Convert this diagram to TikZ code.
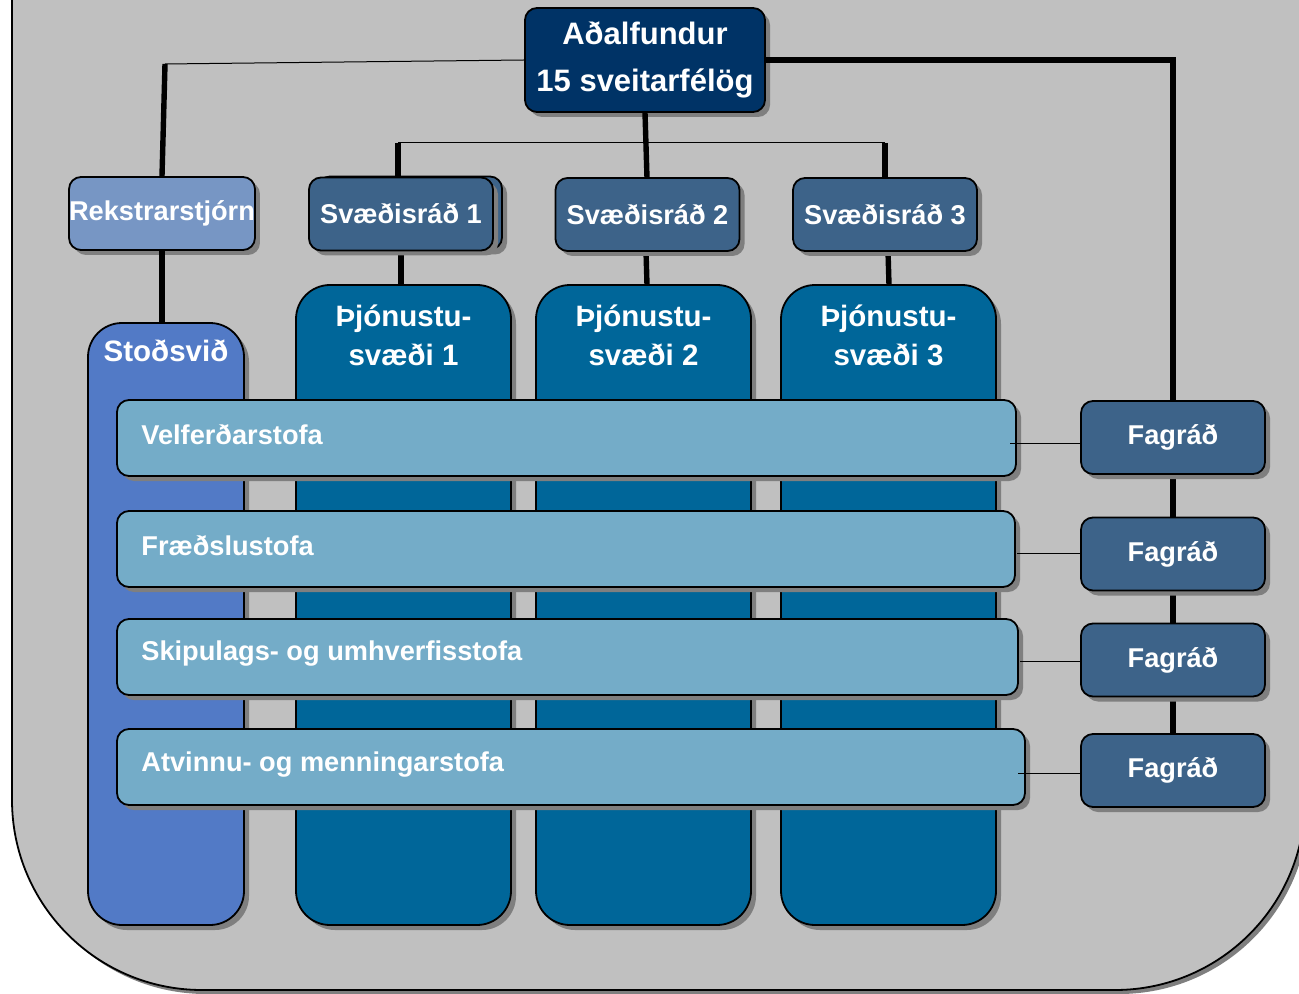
\documentclass[tikz,border=0pt]{standalone}
\usepackage{fontspec}
\setmainfont{Liberation Sans}
\usetikzlibrary{positioning,shadows,calc}
\definecolor{bggray}{HTML}{C0C0C0}
\definecolor{shadowgray}{HTML}{7F7F7F}
\definecolor{navy}{HTML}{003366}
\definecolor{rekblue}{HTML}{7796C4}
\definecolor{svblue}{HTML}{3D6389}
\definecolor{stodblue}{HTML}{527AC6}
\definecolor{pjblue}{HTML}{006699}
\definecolor{stofablue}{HTML}{74ACC8}

\begin{document}
\begin{tikzpicture}[x=0.5pt,y=-0.5pt,
    box/.style={draw=black, line width=0.9pt, rounded corners=6pt, inner sep=0pt,
      text=white, font=\fontsize{13.6}{16}\selectfont\bfseries,
      drop shadow={shadow xshift=2.5pt, shadow yshift=-2.5pt, fill=shadowgray, opacity=1}},
    small/.style={box, fill=svblue, minimum width=92pt, minimum height=36.5pt},
    col/.style={box, rounded corners=17pt, minimum height=320pt},
    stofa/.style={box, fill=stofablue, minimum height=38pt},
    stofatext/.style={anchor=west, inner sep=0pt, text=white, font=\fontsize{13.6}{16}\selectfont\bfseries},
    thickline/.style={line width=2.7pt},
    thinline/.style={line width=0.5pt}]
    % page and background panel
    \useasboundingbox[fill=white] (0,0) rectangle (1299,994);
    \fill[shadowgray, rounded corners=95pt] (16,-10) -- (16,994) -- (1309,994) -- (1309,-10);
    \filldraw[fill=bggray, draw=black, line width=0.9pt, rounded corners=95pt]
        (12,-10) -- (12,990) -- (1305,990) -- (1305,-10);

    % points where the lines turn
    \coordinate (kl) at (165,64);
    \coordinate (ks1) at (398,143);
    \coordinate (ks3) at (885,143);

    % boxes
    \node[box, fill=navy, minimum width=120pt, minimum height=52pt, align=center,
          font=\fontsize{15.5}{23.5}\selectfont\bfseries] (adal) at (645,60) {Aðalfundur\\15 sveitarfélög};
    \node[small, fill=rekblue, minimum width=92.5pt] (rek) at (162,213.5) {Rekstrarstjórn};

    % lines first, so they go under the boxes
    \draw[thinline] (adal.west) -- (kl);
    \draw[thickline] (kl) -- (rek.north);
    \draw[thickline] (adal.east) -| (1173,400);
    \draw[thinline] (ks1) -- (ks3);
    \draw[thickline] (adal.south) -- (647,178);
    \draw[thickline] (ks1) -- (398,178);
    \draw[thickline] (ks3) -- (885,178);
    \draw[thickline] (162,250) -- (162,323);
    \draw[thickline] (401,251) -- (401,285);
    \draw[thickline] (646,251) -- (647,285);
    \draw[thickline] (888,251) -- (889,285);
    \draw[thickline] (1173,474) -- (1173,517);
    \draw[thickline] (1173,591) -- (1173,623);
    \draw[thickline] (1173,697) -- (1173,734);

    \node[small] (sv1b) at (410,213) {};
    \node[small] (sv1) at (401,214) {Svæðisráð 1};
    \node[small] (sv2) at (647.5,214.5) {Svæðisráð 2};
    \node[small] (sv3) at (885,214.5) {Svæðisráð 3};

    \node[col, fill=stodblue, minimum width=78pt, minimum height=301pt] (stod) at (166,624) {};
    \node[col, fill=pjblue, minimum width=107.5pt] (pj1) at (403.5,605) {};
    \node[col, fill=pjblue, minimum width=107.5pt] (pj2) at (643.5,605) {};
    \node[col, fill=pjblue, minimum width=107.5pt] (pj3) at (888.5,605) {};
    \node[text=white, font=\fontsize{14.75}{19.5}\selectfont\bfseries] at ([yshift=-14.5pt]stod.north) {Stoðsvið};
    \foreach \i in {1,2,3}
        \node[text=white, align=center, font=\fontsize{14.75}{19.5}\selectfont\bfseries]
            at ([yshift=-25.5pt]pj\i.north) {Þjónustu-\\svæði \i};

    \node[stofa, minimum width=449.5pt] (stofa1) at (566.5,438) {};
    \node[stofa, minimum width=449pt] (stofa2) at (566,549) {};
    \node[stofa, minimum width=450.5pt] (stofa3) at (567.5,657) {};
    \node[stofa, minimum width=454pt] (stofa4) at (571,767) {};
    \node[stofatext] at (141,435) {Velferðarstofa};
    \node[stofatext] at (141,546) {Fræðslustofa};
    \node[stofatext] at (141,654) {Skipulags- og umhverfisstofa};
    \node[stofatext] at (141,765) {Atvinnu- og menningarstofa};

    \node[small] (fag1) at (1173,437.5) {Fagráð};
    \node[small] (fag2) at (1173,554) {Fagráð};
    \node[small] (fag3) at (1173,660) {Fagráð};
    \node[small] (fag4) at (1173,770.5) {Fagráð};

    % thin lines from the offices to the councils
    \coordinate (s1) at (1010,443);
    \coordinate (s2) at (1017,553);
    \coordinate (s3) at (1020,661);
    \coordinate (s4) at (1018,773);
    \foreach \i in {1,2,3,4}
        \draw[thinline] (s\i) -- (s\i -| fag\i.west);
\end{tikzpicture}
\end{document}
